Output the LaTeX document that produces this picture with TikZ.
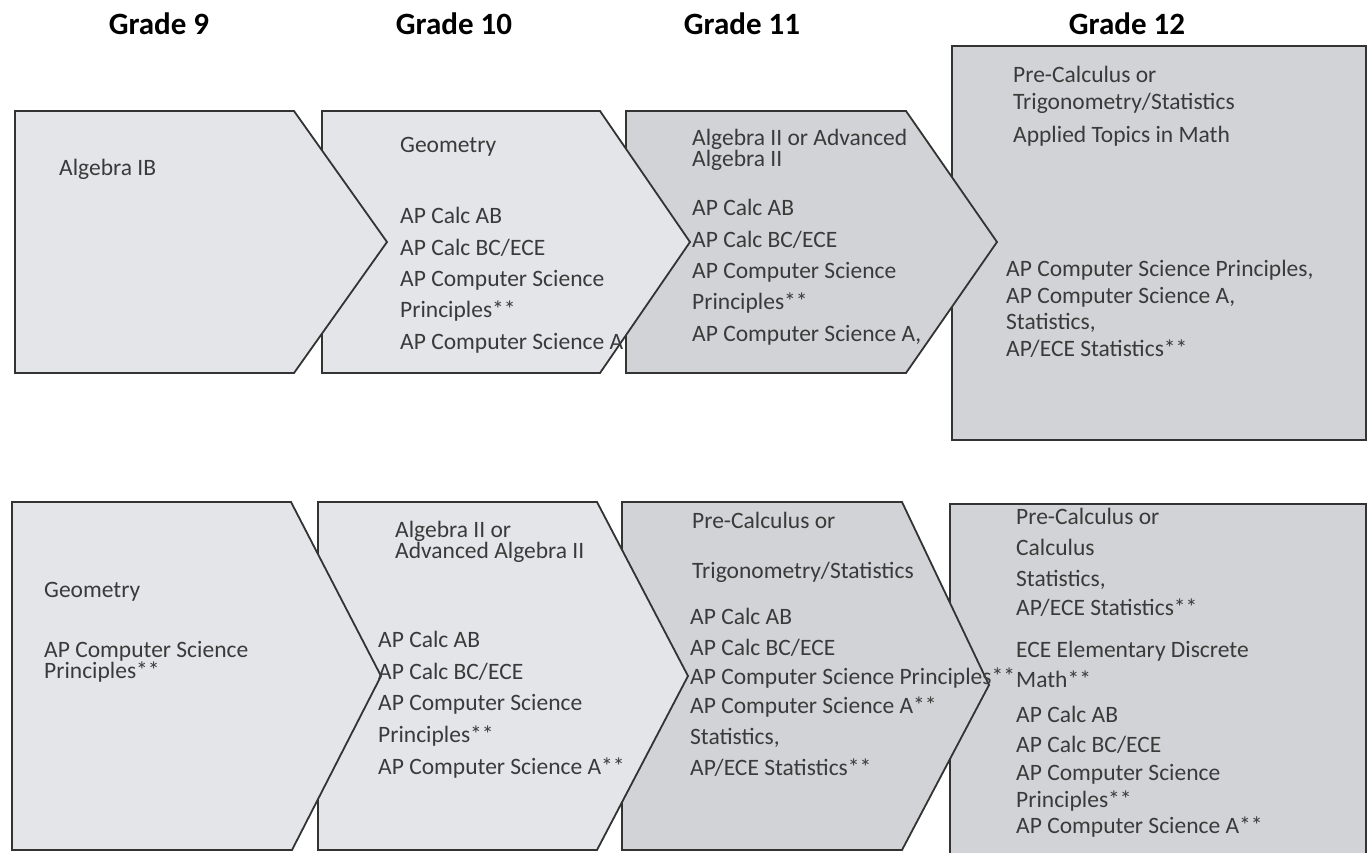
\documentclass[tikz,border=0pt]{standalone}
\usepackage{fontspec}
\setmainfont{Carlito}
\definecolor{lightfill}{HTML}{E3E5E8}
\definecolor{darkfill}{HTML}{D2D3D6}
\definecolor{edgecol}{HTML}{333333}
\definecolor{txtcol}{HTML}{3A3A3A}
\begin{document}
\begin{tikzpicture}[x=1pt,y=-1pt,
  shp/.style={draw=edgecol, line width=1.8pt, line join=miter},
  lt/.style={shp, fill=lightfill},
  dk/.style={shp, fill=darkfill},
  txt/.style={anchor=base west, inner sep=0pt, text=txtcol, font=\fontsize{23.5}{28}\selectfont},
  hdr/.style={anchor=base, inner sep=0pt, text=black, font=\bfseries\fontsize{31}{36}\selectfont}]
\useasboundingbox (0,0) rectangle (1369,852);
\clip (0,0) rectangle (1369,852);
\fill[white] (0,0) rectangle (1369,852);

% headers
\node[hdr] (h9)  at (159,34)  {Grade 9};
\node[hdr] (h10) at (454,34)  {Grade 10};
\node[hdr] (h11) at (742,34)  {Grade 11};
\node[hdr] (h12) at (1127,34) {Grade 12};

% ---------- top row shapes (back to front) ----------
\draw[dk] (952,46) rectangle (1366,440);
\draw[dk] (626,111) -- (906,111) -- (997,242) -- (906,373) -- (626,373) -- cycle;
\draw[lt] (322,111) -- (600,111) -- (690,242) -- (600,373) -- (322,373) -- cycle;
\draw[lt] (15,111) -- (294,111) -- (387,242) -- (294,373) -- (15,373) -- cycle;

% ---------- bottom row shapes ----------
\fill[darkfill] (950,504) rectangle (1366,860);
\draw[shp] (950,860) -- (950,504) -- (1366,504) -- (1366,860);
\draw[dk] (622,502) -- (902,502) -- (989,685) -- (902,850) -- (622,850) -- cycle;
\draw[lt] (318,502) -- (597,502) -- (688,676) -- (597,850) -- (318,850) -- cycle;
\draw[lt] (12,502) -- (291,502) -- (381,676) -- (292,850) -- (12,850) -- cycle;

% ---------- top row text ----------
\node[txt] (a1) at (59,175) {Algebra IB};

\node[txt] (b1) at (400,152) {Geometry};
\node[txt] (b2) at (400,223) {AP Calc AB};
\node[txt] (b3) at (400,255) {AP Calc BC/ECE};
\node[txt] (b4) at (400,286) {AP Computer Science};
\node[txt] (b5) at (400,317) {Principles**};
\node[txt] (b6) at (400,349) {AP Computer Science A};

\node[txt] (c1) at (692,145) {Algebra II or Advanced};
\node[txt] (c2) at (692,166) {Algebra II};
\node[txt] (c3) at (692,215) {AP Calc AB};
\node[txt] (c4) at (692,247) {AP Calc BC/ECE};
\node[txt] (c5) at (692,278) {AP Computer Science};
\node[txt] (c6) at (692,309) {Principles**};
\node[txt] (c7) at (692,341) {AP Computer Science A,};

\node[txt] (d1) at (1013,82)  {Pre-Calculus or};
\node[txt] (d2) at (1013,109) {Trigonometry/Statistics};
\node[txt] (d3) at (1013,142) {Applied Topics in Math};
\node[txt] (d4) at (1006,276) {AP Computer Science Principles,};
\node[txt] (d5) at (1006,303) {AP Computer Science A,};
\node[txt] (d6) at (1006,329) {Statistics,};
\node[txt] (d7) at (1006,356) {AP/ECE Statistics**};

% ---------- bottom row text ----------
\node[txt] (e1) at (44,597) {Geometry};
\node[txt] (e2) at (44,657) {AP Computer Science};
\node[txt] (e3) at (44,678) {Principles**};

\node[txt] (f1) at (395,537) {Algebra II or};
\node[txt] (f2) at (395,558) {Advanced Algebra II};
\node[txt] (f3) at (378,647) {AP Calc AB};
\node[txt] (f4) at (378,679) {AP Calc BC/ECE};
\node[txt] (f5) at (378,710) {AP Computer Science};
\node[txt] (f6) at (378,742) {Principles**};
\node[txt] (f7) at (378,774) {AP Computer Science A**};

\node[txt] (g1) at (692,528) {Pre-Calculus or};
\node[txt] (g2) at (692,578) {Trigonometry/Statistics};
\node[txt] (g3) at (690,624) {AP Calc AB};
\node[txt] (g4) at (690,655) {AP Calc BC/ECE};
\node[txt] (g5) at (690,684) {AP Computer Science Principles**};
\node[txt] (g6) at (690,713) {AP Computer Science A**};
\node[txt] (g7) at (690,744) {Statistics,};
\node[txt] (g8) at (690,775) {AP/ECE Statistics**};

\node[txt] (k1)  at (1016,524) {Pre-Calculus or};
\node[txt] (k2)  at (1016,555) {Calculus};
\node[txt] (k3)  at (1016,586) {Statistics,};
\node[txt] (k4)  at (1016,615) {AP/ECE Statistics**};
\node[txt] (k5)  at (1016,657) {ECE Elementary Discrete};
\node[txt] (k6)  at (1016,687) {Math**};
\node[txt] (k7)  at (1016,722) {AP Calc AB};
\node[txt] (k8)  at (1016,752) {AP Calc BC/ECE};
\node[txt] (k9)  at (1016,780) {AP Computer Science};
\node[txt] (k10) at (1016,807) {Principles**};
\node[txt] (k11) at (1016,833) {AP Computer Science A**};
\end{tikzpicture}
\end{document}
